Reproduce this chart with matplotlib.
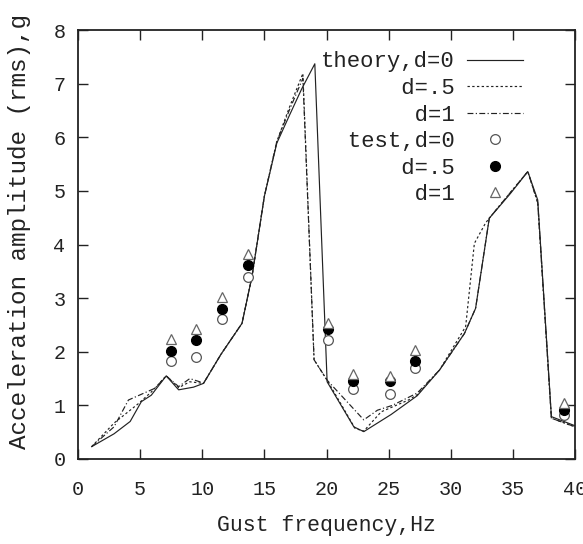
import matplotlib
matplotlib.use("Agg")
import matplotlib.pyplot as plt

# theory, d=0 (solid)
f_d0 = [1.1, 2.9, 4.2, 5.1, 5.9, 7.1, 8.1, 9.3, 10.1, 11.5, 13.2, 14.0, 15.0, 16.0, 17.0, 18.0, 19.06,
        20.05, 22.2, 23.0, 25.2, 27.3, 29.1, 31.1, 32.0, 33.1, 34.8, 36.2, 37.0, 38.1, 40.0]
a_d0 = [0.23, 0.47, 0.70, 1.07, 1.19, 1.55, 1.29, 1.34, 1.41, 1.95, 2.53, 3.40, 4.90, 5.89, 6.40, 6.90, 7.37,
        1.44, 0.60, 0.51, 0.83, 1.18, 1.66, 2.34, 2.81, 4.49, 4.95, 5.36, 4.83, 0.79, 0.62]

# theory, d=.5 (dotted)
f_d5 = [1.1, 2.9, 4.9, 5.9, 7.1, 8.1, 9.0, 10.1, 11.5, 13.2, 14.0, 15.0, 16.0, 17.0, 18.1, 19.0,
        20.05, 22.3, 23.0, 24.4, 26.6, 27.3, 29.1, 31.2, 31.9, 32.8, 33.1, 34.8, 36.2, 37.0, 38.1, 40.0]
a_d5 = [0.23, 0.67, 1.04, 1.25, 1.55, 1.33, 1.44, 1.41, 1.95, 2.53, 3.40, 4.90, 5.92, 6.55, 7.19, 1.85,
        1.47, 0.57, 0.52, 0.88, 1.10, 1.20, 1.66, 2.47, 4.02, 4.40, 4.49, 4.97, 5.36, 4.78, 0.76, 0.60]

# theory, d=1 (dash-dot)
f_d1 = [1.1, 2.9, 4.06, 6.2, 7.1, 8.1, 9.0, 9.8, 10.1, 11.5, 13.2, 14.0, 15.0, 16.0, 17.0, 18.1, 19.0,
        20.05, 23.0, 24.1, 25.3, 27.3, 29.1, 31.1, 32.0, 33.1, 34.8, 36.2, 37.0, 38.1, 40.0]
a_d1 = [0.23, 0.60, 1.10, 1.32, 1.55, 1.35, 1.50, 1.44, 1.41, 1.95, 2.53, 3.40, 4.90, 5.92, 6.50, 7.10, 1.85,
        1.47, 0.73, 0.91, 1.00, 1.23, 1.66, 2.34, 2.81, 4.49, 4.97, 5.36, 4.78, 0.76, 0.60]

# test points
f_test = [7.5, 9.5, 11.6, 13.7, 20.1, 22.1, 25.1, 27.1, 39.1]
t_d0 = [1.82, 1.91, 2.61, 3.40, 2.22, 1.31, 1.21, 1.70, 0.82]
t_d5 = [2.01, 2.21, 2.80, 3.61, 2.42, 1.46, 1.46, 1.82, 0.91]
t_d1 = [2.23, 2.43, 3.03, 3.82, 2.53, 1.59, 1.54, 2.03, 1.04]

x_ticks = [0, 5, 10, 15, 20, 25, 30, 35, 40]
y_ticks = [0, 1, 2, 3, 4, 5, 6, 7, 8]

labels = ["theory,d=0", "      d=.5", "       d=1", "  test,d=0", "      d=.5", "       d=1"]

mono = "Liberation Mono"

fig = plt.figure(figsize=(5.83, 5.44), dpi=100)
ax = fig.add_axes([78 / 583, 85 / 544, (575 - 78) / 583, (459 - 30) / 544])

lc = "#222222"
ax.plot(f_d0, a_d0, color=lc, lw=0.85, ls="-", label=labels[0])
ax.plot(f_d5, a_d5, color=lc, lw=0.85, ls=(0, (2, 2)), label=labels[1])
ax.plot(f_d1, a_d1, color=lc, lw=0.85, ls=(0, (5, 2, 1, 2)), label=labels[2])
ax.plot(f_test, t_d0, ls="none", marker="o", ms=7, mfc="white", mec="#555555", mew=0.9, label=labels[3])
ax.plot(f_test, t_d5, ls="none", marker="o", ms=7, mfc="black", mec="black", label=labels[4])
ax.plot(f_test, t_d1, ls="none", marker="^", ms=7, mfc="white", mec="#666666", mew=0.9, label=labels[5])

ax.set_xlim(0, 40)
ax.set_ylim(0, 8)
ax.set_xticks(x_ticks)
ax.set_yticks(y_ticks)
ax.set_xticklabels([str(v) for v in x_ticks], fontfamily=mono, fontsize=14.5)
ax.set_yticklabels([str(v) for v in y_ticks], fontfamily=mono, fontsize=14.5)
ax.tick_params(direction="in", length=7, width=1, top=True, right=True, colors="#222222")
ax.tick_params(axis="x", pad=15)
ax.tick_params(axis="y", pad=9)
for s in ax.spines.values():
    s.set_linewidth(1.3)
    s.set_color("#222222")

ax.set_xlabel("Gust frequency,Hz", fontfamily=mono, fontsize=15.5, labelpad=12, color="#222222")
ax.set_ylabel("Acceleration amplitude (rms),g", fontfamily=mono, fontsize=17.5, color="#222222")
ax.yaxis.set_label_coords(-0.094, 0.53)

leg = ax.legend(loc="upper right", bbox_to_anchor=(0.895, 0.95), frameon=False, markerfirst=False,
                prop={"family": mono, "size": 16}, handlelength=2.5, handletextpad=0.55,
                labelspacing=0.25, borderpad=0, borderaxespad=0)
for t in leg.get_texts():
    t.set_color("#222222")

fig.savefig("out.png", dpi=100)
